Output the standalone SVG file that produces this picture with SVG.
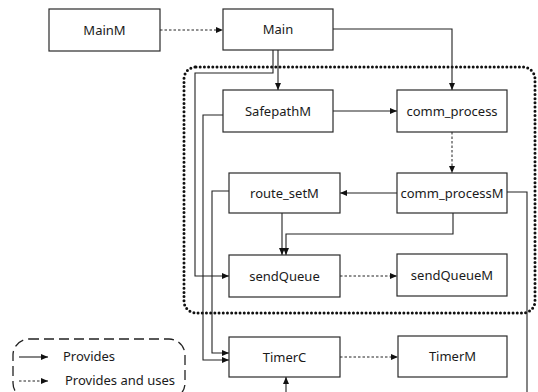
<svg xmlns="http://www.w3.org/2000/svg" width="538" height="392" viewBox="0 0 538 392">
<style>
.box{fill:#fff;stroke:#2a2a2a;stroke-width:1.2}
.lbl{font-family:"Noto Sans","Liberation Sans",sans-serif;font-size:13px;fill:#1a1a1a;text-anchor:middle}
.leg{font-family:"Noto Sans","Liberation Sans",sans-serif;font-size:13px;fill:#1a1a1a}
.c{fill:none;stroke:#222;stroke-width:1.1}
.d{fill:none;stroke:#222;stroke-width:1;stroke-dasharray:2.5,2}
.a{marker-end:url(#ah)}
</style>
<defs>
<marker id="ah" markerUnits="userSpaceOnUse" markerWidth="8" markerHeight="7" refX="7" refY="3.5" orient="auto">
<path d="M0,0.5 L7,3.5 L0,6.5 z" fill="#111"/>
</marker>
</defs>
<rect x="184" y="67" width="351" height="246" rx="12" fill="none" stroke="#111" stroke-width="3" stroke-dasharray="0,4.2" stroke-linecap="round"/>
<g id="connectors">
<path class="d a" d="M160,30 H223"/>
<path class="c a" d="M333,29 H452 V90"/>
<path class="c a" d="M278,50 V90"/>
<path class="c a" d="M273,50 V73 H195 V276 H229"/>
<path class="c a" d="M333,111 H397"/>
<path class="c a" d="M223,115 H203 V360 H229"/>
<path class="d a" d="M452,132 V173"/>
<path class="c a" d="M397,193 H340"/>
<path class="c a" d="M453,213 V234 H286 V255"/>
<path class="c a" d="M282,213 V255"/>
<path class="c a" d="M229,191 H212 V353 H229"/>
<path class="d a" d="M340,276 H397"/>
<path class="d a" d="M340,357 H398"/>
<path class="c" d="M507,192 H527 V392"/>
<path class="c a" d="M286,392 V377"/>
</g>
<g id="MainM"><rect class="box" x="49" y="9" width="111" height="42"/><text class="lbl" x="104.5" y="34.5">MainM</text></g>
<g id="Main"><rect class="box" x="223" y="9" width="110" height="41"/><text class="lbl" x="278" y="34">Main</text></g>
<g id="SafepathM"><rect class="box" x="223" y="90" width="110" height="42"/><text class="lbl" x="278" y="115.5">SafepathM</text></g>
<g id="comm_process"><rect class="box" x="397" y="90" width="110" height="42"/><text class="lbl" x="452" y="115.5">comm_process</text></g>
<g id="route_setM"><rect class="box" x="229" y="173" width="111" height="40"/><text class="lbl" x="284.5" y="197.5">route_setM</text></g>
<g id="comm_processM"><rect class="box" x="397" y="173" width="110" height="40"/><text class="lbl" x="452" y="197.5">comm_processM</text></g>
<g id="sendQueue"><rect class="box" x="229" y="255" width="111" height="42"/><text class="lbl" x="284.5" y="280.5">sendQueue</text></g>
<g id="sendQueueM"><rect class="box" x="397" y="254" width="110" height="42"/><text class="lbl" x="452" y="279.5">sendQueueM</text></g>
<g id="TimerC"><rect class="box" x="229" y="337" width="111" height="40"/><text class="lbl" x="284.5" y="361.5">TimerC</text></g>
<g id="TimerM"><rect class="box" x="398" y="336" width="109" height="41"/><text class="lbl" x="452.5" y="361">TimerM</text></g>
<g id="legend">
<rect x="13" y="339" width="172" height="60" rx="16" fill="none" stroke="#222" stroke-width="1.3" stroke-dasharray="10,5"/>
<path class="c a" d="M19,357 H48"/>
<text class="leg" x="63" y="361">Provides</text>
<path class="d a" d="M19,381 H48"/>
<text class="leg" x="65" y="385">Provides and uses</text>
</g>
</svg>
